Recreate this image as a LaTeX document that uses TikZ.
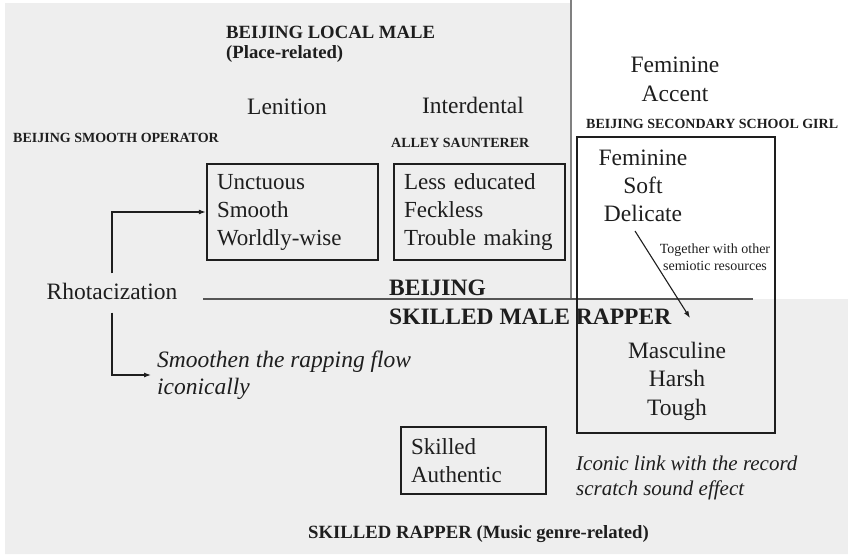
\documentclass[tikz,border=0pt]{standalone}
\usepackage{fontspec}
\setmainfont{Liberation Serif}
\usetikzlibrary{arrows.meta}
\definecolor{bg}{HTML}{EEEEEE}
\definecolor{ink}{HTML}{1E1E1E}
\definecolor{rulec}{HTML}{555555}
\definecolor{vrule}{HTML}{808080}
\begin{document}
\begin{tikzpicture}[x=1pt,y=-1pt,
  txt/.style={inner sep=0pt, text=ink},
  reg/.style={txt, font=\fontsize{23.5}{28}\selectfont, align=center},
  hbold/.style={txt, font=\bfseries\fontsize{18.7}{22}\selectfont},
  sbold/.style={txt, font=\bfseries\fontsize{14}{17}\selectfont},
  lbold/.style={txt, font=\bfseries\fontsize{23.5}{28}\selectfont},
  tbox/.style={draw=ink, line width=2.4pt, inner xsep=10pt, inner ysep=0pt,
    align=left, text=ink, font=\fontsize{23}{28}\selectfont},
  conn/.style={draw=ink, line width=1.1pt, -{Latex[length=7pt,width=5pt]}}
]
\useasboundingbox (0,0) rectangle (848,557);
\fill[bg] (5,3) -- (570,3) -- (570,299) -- (848,299) -- (848,554) -- (5,554) -- cycle;
\draw[vrule, line width=1.5pt] (571,0) -- (571,299);
\draw[rulec, line width=1.2pt] (203,299) -- (753,299);

% top-left texts
\node[hbold, anchor=west] (blm) at (226,32) {BEIJING LOCAL MALE};
\node[hbold, anchor=west] (place) at (226,54) {(Place-related)};
\node[reg] (len) at (287,107) {Lenition};
\node[reg] (inter) at (473,105) {Interdental};
\node[sbold, anchor=west] (bso) at (13,138) {BEIJING SMOOTH OPERATOR};
\node[sbold, anchor=west] (alley) at (391,143) {ALLEY SAUNTERER};

% boxes
\node[tbox, minimum height=96pt, text width=151pt] (unct) at (292.5,212) {Unctuous\\Smooth\\Worldly-wise};
\node[tbox, minimum height=96pt, text width=151pt] (less) at (479.5,212) {Less educated\\Feckless\\Trouble making};
\node[tbox, minimum height=67pt, text width=125pt] (skill) at (473.5,460.5) {Skilled\\Authentic};
\node[draw=ink, line width=2.4pt, minimum width=198pt, minimum height=296pt, inner sep=0pt] (big) at (676,285) {};

% right texts
\node[reg, font=\fontsize{23.5}{29}\selectfont] (fa) at (675,79) {Feminine\\Accent};
\node[sbold, anchor=west] (bssg) at (586,124) {BEIJING SECONDARY SCHOOL GIRL};
\node[reg] (fsd) at (643,186) {Feminine\\Soft\\Delicate};
\node[txt, font=\fontsize{14}{16.5}\selectfont, align=center] (tog) at (715,257) {Together with other\\semiotic resources};
\node[reg, font=\fontsize{23.5}{28.5}\selectfont] (mht) at (677,381) {Masculine\\Harsh\\Tough};
\node[txt, font=\itshape\fontsize{21}{25}\selectfont, align=left, anchor=west] (icon) at (576,478) {Iconic link with the record\\scratch sound effect};

% middle
\node[lbold, anchor=west] (bj) at (389,288) {BEIJING};
\node[lbold, anchor=west] (smr) at (389,317) {SKILLED MALE RAPPER};
\node[hbold] (sr) at (478.5,534) {SKILLED RAPPER (Music genre-related)};

% left
\node[reg, text height=16pt, text depth=4pt, inner ysep=9.5pt] (rho) at (112,293) {Rhotacization};
\node[txt, font=\itshape\fontsize{23.5}{27}\selectfont, align=left, anchor=west, inner xsep=6pt] (smooth) at (151,375) {Smoothen the rapping flow\\iconically};

\draw[conn] (rho.north) |- (unct.west);
\draw[conn] (rho.south) |- (smooth.west);
\coordinate (ts) at (635,231);
\coordinate (te) at (690,318);
\draw[conn] (ts) -- (te);
\end{tikzpicture}
\end{document}
